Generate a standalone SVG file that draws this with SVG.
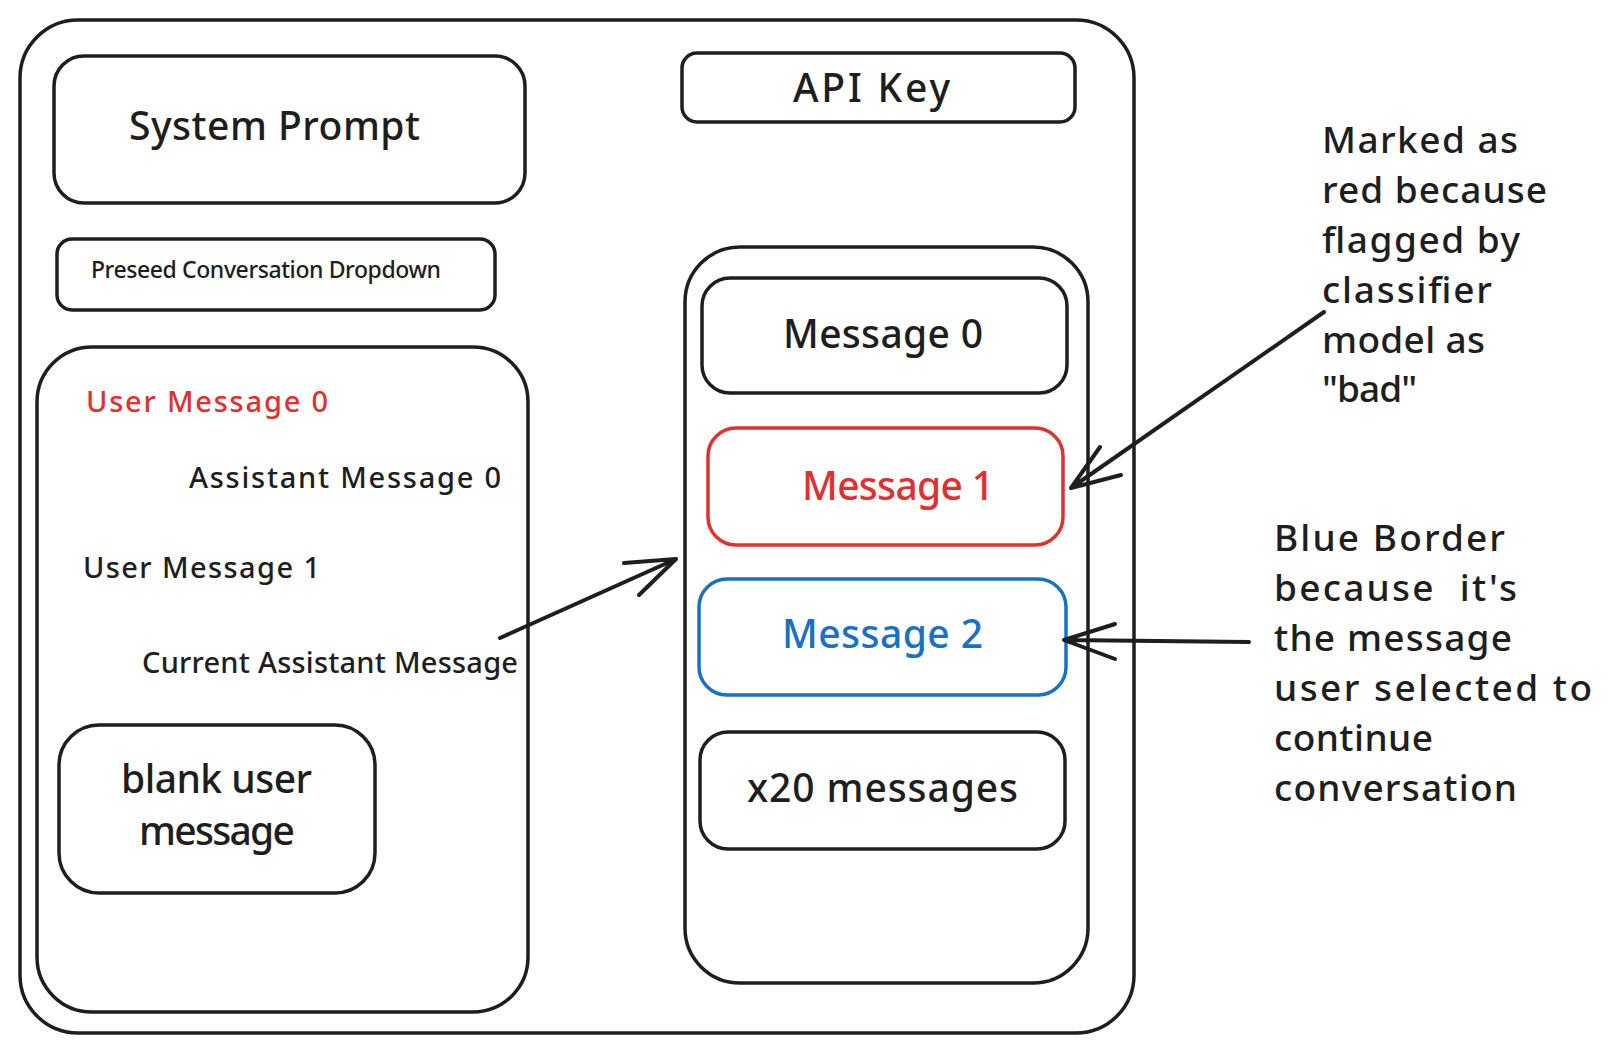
<svg xmlns="http://www.w3.org/2000/svg" width="1614" height="1056" viewBox="0 0 1614 1056">
<style>
.box{fill:none;stroke:#1e1e1e;stroke-width:3.5;stroke-linejoin:round}
.red{stroke:#e03131}
.blue{stroke:#1971c2}
.t{font-family:"Noto Sans","DejaVu Sans",sans-serif;fill:#1e1e1e;font-weight:500}
.lg{font-size:39px}
.md{font-size:29px}
.sm{font-size:23px}
.an{font-size:37px}
.tr{fill:#e03131}
.tb{fill:#1971c2}
.arr{fill:none;stroke:#1e1e1e;stroke-width:4;stroke-linecap:round;stroke-linejoin:round}
</style>
<rect width="1614" height="1056" fill="#ffffff"/>
<g id="outer-frame"><rect class="box" x="20" y="20" width="1114" height="1013" rx="58"/></g>
<g id="system-prompt"><rect class="box" x="54" y="56" width="471" height="147" rx="30"/>
<text class="t lg" x="129" y="140" textLength="291">System Prompt</text></g>
<g id="preseed-dropdown"><rect class="box" x="57" y="239" width="438" height="71" rx="15"/>
<text class="t sm" x="91" y="278" textLength="350">Preseed Conversation Dropdown</text></g>
<g id="conversation-panel"><rect class="box" x="37" y="347" width="491" height="665" rx="55"/>
<text class="t md tr" x="86" y="412" textLength="242">User Message 0</text>
<text class="t md" x="189" y="488" textLength="312">Assistant Message 0</text>
<text class="t md" x="83" y="578" textLength="237">User Message 1</text>
<text class="t md" x="142" y="673" textLength="376">Current Assistant Message</text></g>
<g id="blank-user-message"><rect class="box" x="59" y="725" width="316" height="168" rx="40"/>
<text class="t lg" x="121" y="793" textLength="191">blank user</text>
<text class="t lg" x="139" y="845" textLength="156">message</text></g>
<g id="api-key"><rect class="box" x="682" y="53" width="393" height="69" rx="15"/>
<text class="t lg" x="793" y="102" textLength="157">API Key</text></g>
<g id="message-list"><rect class="box" x="685" y="247" width="403" height="736" rx="55"/></g>
<g id="message-0"><rect class="box" x="702" y="278" width="365" height="115" rx="28"/>
<text class="t lg" x="783" y="348" textLength="200">Message 0</text></g>
<g id="message-1"><rect class="box red" x="708" y="428" width="355" height="117" rx="28"/>
<text class="t lg tr" x="802" y="500" textLength="192">Message 1</text></g>
<g id="message-2"><rect class="box blue" x="699" y="579" width="367" height="116" rx="28"/>
<text class="t lg tb" x="782" y="648" textLength="201">Message 2</text></g>
<g id="x20-messages"><rect class="box" x="700" y="732" width="365" height="117" rx="28"/>
<text class="t lg" x="747" y="802" textLength="271">x20 messages</text></g>
<g id="note-red">
<text class="t an" x="1322" y="153" textLength="196">Marked as</text>
<text class="t an" x="1322" y="203" textLength="225">red because</text>
<text class="t an" x="1322" y="253" textLength="198">flagged by</text>
<text class="t an" x="1322" y="303" textLength="170">classifier</text>
<text class="t an" x="1322" y="353" textLength="163">model as</text>
<text class="t an" x="1322" y="402" textLength="95">"bad"</text></g>
<g id="note-blue">
<text class="t an" x="1274" y="551" textLength="231">Blue Border</text>
<text class="t an" x="1274" y="601" textLength="243" xml:space="preserve">because  it's</text>
<text class="t an" x="1274" y="651" textLength="238">the message</text>
<text class="t an" x="1274" y="701" textLength="318">user selected to</text>
<text class="t an" x="1274" y="751" textLength="159">continue</text>
<text class="t an" x="1274" y="801" textLength="243">conversation</text></g>
<g id="connectors">
<path class="arr" d="M500 638 L676 559 M624 563 L676 559 L639 595"/>
<path class="arr" d="M1324 312 L1071 488 M1100 447 L1071 488 L1121 475"/>
<path class="arr" d="M1249 642 L1064 640 M1115 624 L1064 640 L1115 659"/>
</g>
</svg>
